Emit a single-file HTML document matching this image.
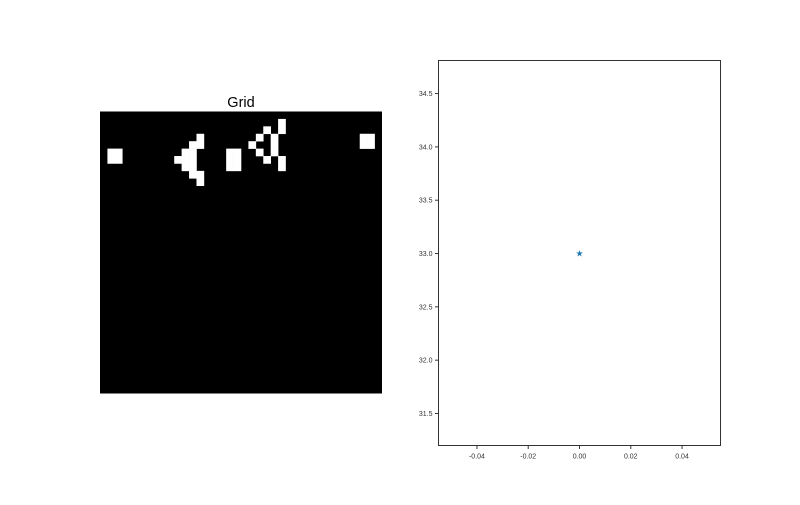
<!DOCTYPE html>
<html><head><meta charset="utf-8"><style>
body{margin:0;background:#fff;font-family:"Liberation Sans",sans-serif}
svg text{font-family:"Liberation Sans",sans-serif}
</style></head><body>
<svg id="fig" width="800" height="500" xmlns="http://www.w3.org/2000/svg">
<rect width="800" height="500" fill="#fff"/>
<text x="241" y="107" font-size="14.5" text-anchor="middle">Grid</text>
<rect x="100" y="111.5" width="282" height="282" fill="#000"/>
<g id="cells"></g>
<rect x="438.5" y="60.5" width="282" height="385" fill="#fff" stroke="#333" stroke-width="1"/>
<g id="ax"></g>
<g id="pts"></g>
</svg>
<script>
const liveCells=[[1,5],[2,5],[1,6],[2,6],
[13,3],[12,4],[13,4],[11,5],[12,5],[10,6],[11,6],[12,6],[11,7],[12,7],[12,8],[13,8],[13,9],
[17,5],[18,5],[17,6],[18,6],[17,7],[18,7],
[24,1],[24,2],[22,2],[21,3],[23,3],[20,4],[23,4],[21,5],[23,5],[22,6],[24,6],[24,7],
[35,3],[36,3],[35,4],[36,4]];
const gridN=38;
const xTicks=[-0.04,-0.02,0.00,0.02,0.04];
const yTicks=[31.5,32.0,32.5,33.0,33.5,34.0,34.5];
const ptsX=[0];
const ptsY=[33];
const NS="http://www.w3.org/2000/svg";
const cs=282/gridN;
const cg=document.getElementById('cells');
liveCells.forEach(([c,r])=>{
 const e=document.createElementNS(NS,'rect');
 e.setAttribute('x',100+c*cs);e.setAttribute('y',111.5+r*cs);
 e.setAttribute('width',cs+0.3);e.setAttribute('height',cs+0.3);e.setAttribute('fill','#fff');
 
 
 cg.appendChild(e);
});
const X0=438.5,X1=720.5,Y0=60.5,Y1=445.5;
const xmin=-0.055,xmax=0.055,ymin=31.2,ymax=34.81;
const sx=v=>X0+(v-xmin)/(xmax-xmin)*(X1-X0);
const sy=v=>Y1-(v-ymin)/(ymax-ymin)*(Y1-Y0);
const ax=document.getElementById('ax');
xTicks.forEach(v=>{
 const x=sx(v);
 const l=document.createElementNS(NS,'line');
 l.setAttribute('x1',x);l.setAttribute('x2',x);l.setAttribute('y1',Y1);l.setAttribute('y2',Y1+3.5);l.setAttribute('stroke','#333');
 
 
 ax.appendChild(l);
 const t=document.createElementNS(NS,'text');
 t.setAttribute('x',x);t.setAttribute('y',Y1+13);t.setAttribute('font-size','7');t.setAttribute('text-anchor','middle');t.setAttribute('fill','#333');
 t.textContent=v.toFixed(2);
 
 
 ax.appendChild(t);
});
yTicks.forEach(v=>{
 const y=sy(v);
 const l=document.createElementNS(NS,'line');
 l.setAttribute('x1',X0-3.5);l.setAttribute('x2',X0);l.setAttribute('y1',y);l.setAttribute('y2',y);l.setAttribute('stroke','#333');
 
 
 ax.appendChild(l);
 const t=document.createElementNS(NS,'text');
 t.setAttribute('x',X0-6);t.setAttribute('y',y+2.5);t.setAttribute('font-size','7');t.setAttribute('text-anchor','end');t.setAttribute('fill','#333');
 t.textContent=v.toFixed(1);
 
 
 ax.appendChild(t);
});
const pg=document.getElementById('pts');
ptsX.forEach((v,i)=>{
 const t=document.createElementNS(NS,'text');
 t.setAttribute('x',sx(v));t.setAttribute('y',sy(ptsY[i])+3);t.setAttribute('font-size','9');t.setAttribute('text-anchor','middle');t.setAttribute('fill','#1f77b4');
 t.textContent='★';
 
 
 pg.appendChild(t);
});
</script>
</body></html>
